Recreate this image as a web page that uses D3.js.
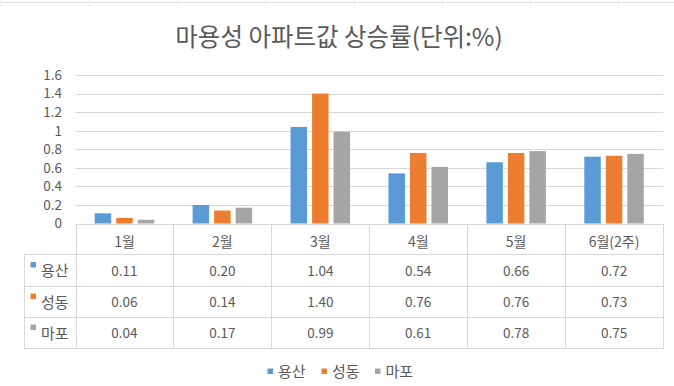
<!DOCTYPE html>
<html><head><meta charset="utf-8">
<script src="https://cdn.jsdelivr.net/npm/d3@7"></script>
<style>
html,body{margin:0;padding:0;background:#fff;}
svg{display:block;font-family:"Noto Sans CJK KR","Noto Sans",sans-serif;}
</style></head>
<body>
<script>
const title = "마용성 아파트값 상승률(단위:%)";
const categories = ["1월","2월","3월","4월","5월","6월(2주)"];
const seriesNames = ["용산","성동","마포"];
const yongsan = [0.11,0.20,1.04,0.54,0.66,0.72];
const seongdong = [0.06,0.14,1.40,0.76,0.76,0.73];
const mapo = [0.04,0.17,0.99,0.61,0.78,0.75];
const yTicks = [0,0.2,0.4,0.6,0.8,1,1.2,1.4,1.6];
const colors = ["#5B9BD5","#ED7D31","#A5A5A5"];
const seriesValues = [yongsan, seongdong, mapo];

const W = 674, H = 386;
const textCol = "#595959", gridCol = "#d9d9d9";
const svg = d3.select("body").append("svg").attr("width", W).attr("height", H);

// spreadsheet gridlines peeking at top
const sheetX = d3.range(0, 8).map(i => 1.5 + i * 88.1);
svg.append("line").attr("x1",0).attr("x2",W).attr("y1",2.5).attr("y2",2.5).attr("stroke","#dcdcdc");
svg.selectAll("line.sheet").data(sheetX).join("line").attr("class","sheet")
  .attr("x1",d=>d).attr("x2",d=>d).attr("y1",0).attr("y2",6).attr("stroke","#e6e6e6");

svg.append("text").attr("x", 339).attr("y", 46).attr("text-anchor","middle")
  .attr("fill", textCol).attr("font-size", 24.5).text(title);

const plotL = 75.5, plotR = 663;
const y = d3.scaleLinear().domain([0,1.6]).range([223.5, 75]);
const x0 = d3.scaleBand().domain(categories).range([plotL, plotR]).padding(0);
const x1 = d3.scaleBand().domain(seriesNames).range([0, x0.bandwidth()])
  .paddingInner(0.233).paddingOuter(0.893);

// gridlines
svg.append("g").selectAll("line").data(yTicks.slice(1)).join("line")
  .attr("x1", plotL).attr("x2", plotR)
  .attr("y1", d => Math.round(y(d)) + 0.5).attr("y2", d => Math.round(y(d)) + 0.5)
  .attr("stroke", gridCol);

// y axis labels
const yAxis = d3.axisLeft(y).tickValues(yTicks).tickSize(0).tickPadding(0)
  .tickFormat(d => d3.format("")(+d.toFixed(1)));
const ya = svg.append("g").attr("transform", "translate(62,0)").call(yAxis);
ya.select(".domain").remove();
ya.selectAll("text").attr("fill", textCol).attr("font-size", 13.5)
  .attr("font-family", '"Noto Sans CJK KR","Noto Sans",sans-serif');

// bars
const groups = svg.append("g").selectAll("g").data(categories).join("g")
  .attr("transform", d => `translate(${x0(d)},0)`);
groups.selectAll("rect").data((c, i) => seriesNames.map((s, j) => ({s, j, v: seriesValues[j][i]})))
  .join("rect")
  .attr("x", d => x1(d.s)).attr("width", x1.bandwidth())
  .attr("y", d => y(d.v)).attr("height", d => y(0) - y(d.v))
  .attr("fill", d => colors[d.j]);

// data table
const rowTops = [223.5, 254, 285.5, 316.5, 348];
const tableLeft = 24;
const t = svg.append("g");
rowTops.forEach((ry, i) => {
  t.append("line").attr("x1", i === 0 ? plotL : tableLeft).attr("x2", plotR)
    .attr("y1", Math.round(ry) + 0.5).attr("y2", Math.round(ry) + 0.5).attr("stroke", gridCol);
});
const colEdges = categories.map(c => x0(c)).concat([plotR]);
colEdges.forEach(cx => {
  t.append("line").attr("x1", Math.round(cx) + 0.5).attr("x2", Math.round(cx) + 0.5)
    .attr("y1", 224).attr("y2", 348.5).attr("stroke", gridCol);
});
t.append("line").attr("x1", tableLeft + 0.5).attr("x2", tableLeft + 0.5)
  .attr("y1", 254).attr("y2", 348.5).attr("stroke", gridCol);

// header
t.selectAll("text.cat").data(categories).join("text").attr("class","cat")
  .attr("x", d => x0(d) + x0.bandwidth() / 2).attr("y", 241)
  .attr("text-anchor","middle").attr("dominant-baseline","central")
  .attr("fill", textCol).attr("font-size", 14).text(d => d);

// rows
seriesNames.forEach((s, j) => {
  const cy = (rowTops[j + 1] + rowTops[j + 2]) / 2;
  t.append("rect").attr("x", 30.5).attr("y", rowTops[j + 1] + 8).attr("width", 5.5).attr("height", 5.5)
    .attr("fill", colors[j]);
  t.append("text").attr("x", 41).attr("y", cy).attr("dominant-baseline","central")
    .attr("fill", textCol).attr("font-size", 15).text(s);
  t.selectAll(null).data(seriesValues[j]).join("text")
    .attr("x", (d, i) => x0(categories[i]) + x0.bandwidth() / 2).attr("y", cy)
    .attr("text-anchor","middle").attr("dominant-baseline","central")
    .attr("fill", textCol).attr("font-size", 13.5).text(d => d.toFixed(2));
});

// legend
const legX = [267.5, 321.5, 375];
const leg = svg.append("g");
seriesNames.forEach((s, j) => {
  leg.append("rect").attr("x", legX[j]).attr("y", 368.5).attr("width", 5.5).attr("height", 5.5).attr("fill", colors[j]);
  leg.append("text").attr("x", legX[j] + 10.5).attr("y", 370.5).attr("dominant-baseline","central")
    .attr("fill", textCol).attr("font-size", 15).text(s);
});
</script>
</body></html>
